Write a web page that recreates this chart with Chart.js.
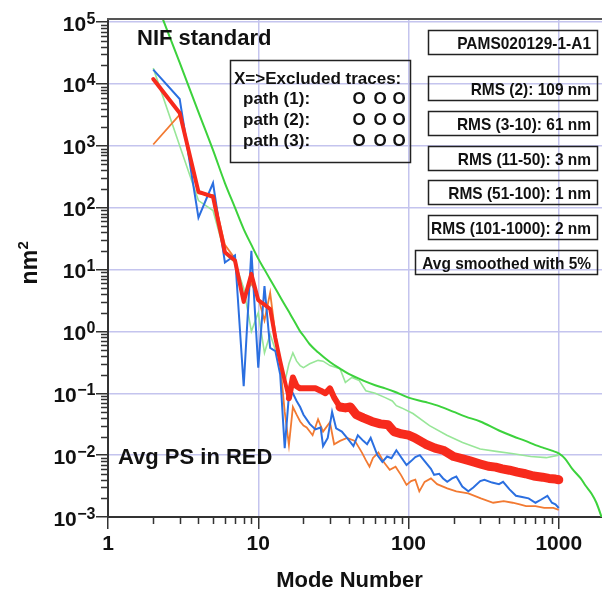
<!DOCTYPE html>
<html>
<head>
<meta charset="utf-8">
<script src="https://cdn.jsdelivr.net/npm/chart.js@4/dist/chart.umd.min.js"></script>
<style>
html,body{margin:0;padding:0;background:#fff;overflow:hidden;}
#wrap{width:610px;height:592px;}
</style>
</head>
<body>
<div id="wrap"><canvas id="c" width="610" height="592"></canvas></div>
<script>
// ---------- DATA ----------
const xTickValues = [1, 10, 100, 1000];
const xTickLabels = ['1', '10', '100', '1000'];
const yTickExponents = [-3, -2, -1, 0, 1, 2, 3, 4, 5];

const redModes = [2,3,4,5,6,7,8,9,10,11,12,13,14,15,16,17,18,19,20,22,24,26,28,30,32,35,38,41,45,50,57,65,73,80,90,100,110,130,150,170,200,230,260,300,340,380,420,470,530,600,680,780,860,950,1000];
const redValues = [1.2e4,3400,180,150,19,14,3.0,8.5,3.2,2.7,2.3,0.78,0.33,0.16,0.083,0.18,0.13,0.12,0.12,0.12,0.12,0.11,0.10,0.12,0.085,0.060,0.058,0.060,0.045,0.040,0.035,0.032,0.031,0.024,0.022,0.021,0.019,0.015,0.013,0.012,0.0095,0.0087,0.0080,0.0072,0.0066,0.0064,0.0060,0.0057,0.0053,0.0050,0.0046,0.0044,0.0042,0.0041,0.0040];

const blueModes = [2,3,4,5,6,7,8,9,10,11,12,13,14,15,16,17,18,19,20,22,24,26,27,29,31,33,36,39,43,46,50,53,56,62,67,72,77,83,90,97,104,111,119,128,141,148,160,170,181,195,208,228,250,270,300,320,360,400,426,470,519,570,630,700,760,840,900,950,1000];
const blueValues = [1.7e4,5700,69,250,13,17,0.13,20,0.26,5.4,0.54,0.48,0.2,0.013,0.093,0.10,0.075,0.06,0.045,0.032,0.026,0.028,0.014,0.019,0.05,0.027,0.024,0.019,0.014,0.021,0.017,0.015,0.019,0.010,0.0078,0.0095,0.0089,0.012,0.009,0.0069,0.0080,0.0093,0.010,0.0080,0.0060,0.0048,0.0050,0.0042,0.0037,0.0042,0.0045,0.0031,0.0026,0.0030,0.0038,0.0040,0.0036,0.0034,0.0037,0.0028,0.0022,0.0021,0.0020,0.0017,0.0019,0.0022,0.0017,0.0016,0.0014];

const orangeModes = [2,3,4,5,6,7,8,9,10,11,12,13,14,15,16,17,18,19,20,21,23,25,27,30,32,35,39,44,49,52,55,58,63,69,75,82,89,97,104,111,118,128,141,155,181,208,250,303,366,430,493,550,606,700,800,920,1000];
const orangeValues = [1050,3200,170,160,25,15,3.5,6,3.5,1.5,4.2,0.9,0.3,0.05,0.0145,0.06,0.045,0.035,0.03,0.028,0.021,0.038,0.024,0.034,0.015,0.017,0.019,0.017,0.011,0.0083,0.0065,0.009,0.011,0.0075,0.0058,0.0065,0.0048,0.0033,0.0038,0.0040,0.0026,0.0037,0.0042,0.0034,0.0029,0.0026,0.0024,0.0020,0.0017,0.0018,0.0017,0.0016,0.0015,0.0015,0.0014,0.0014,0.0013];

const lightGreenModes = [2,3,4,5,6,7,8,9,10,11,12,13,14,15,16,17,18,19,20,22,25,27,30,35,38,42,47,52,60,70,78,83,90,107,138,180,229,300,383,500,650,826,1000];
const lightGreenValues = [1.8e4,1000,130,90,18,13,5,1.0,2.0,0.45,0.9,0.5,0.35,0.15,0.30,0.45,0.33,0.28,0.26,0.30,0.34,0.33,0.28,0.25,0.15,0.18,0.16,0.11,0.10,0.085,0.075,0.063,0.058,0.047,0.030,0.021,0.016,0.0126,0.0115,0.0105,0.0095,0.0091,0.0100];

const standardModes = [2,3,4,5,6,7,8,9,10,11,12,13,14,15,16,17,18,19,20,22,25,30,35,40,50,60,70,80,100,130,160,200,240,300,400,500,600,700,800,900,1000,1100,1230,1400,1510,1650,1780,1900,1950];
const standardValues = [2.8e5,2.2e4,3500,850,250,100,45,25,15,10,6.9,4.95,3.6,2.7,2.07,1.6,1.26,1.0,0.85,0.62,0.46,0.32,0.25,0.205,0.16,0.135,0.12,0.107,0.085,0.072,0.062,0.050,0.042,0.035,0.025,0.020,0.017,0.0145,0.013,0.0118,0.0107,0.0088,0.0060,0.0042,0.0032,0.0024,0.0017,0.0011,0.0009];

const statLines = ['PAMS020129-1-A1', 'RMS (2): 109 nm', 'RMS (3-10): 61 nm', 'RMS (11-50): 3 nm', 'RMS (51-100): 1 nm', 'RMS (101-1000): 2 nm', 'Avg smoothed with 5%'];
const legendTitle = 'X=>Excluded traces:';
const legendRows = ['path (1):', 'path (2):', 'path (3):'];
const legendMarks = [['O','O','O'], ['O','O','O'], ['O','O','O']];
const topLabel = 'NIF standard';
const bottomLabel = 'Avg PS in RED';
const xTitle = 'Mode Number';

// ---------- DRAW ----------
const FF = '"Liberation Sans", Arial, Helvetica, sans-serif';
const toPts = (m, v) => m.map((x, i) => ({x: x, y: v[i]}));

const overlay = {
  id: 'overlay',
  afterDraw(chart) {
    const ctx = chart.ctx, ca = chart.chartArea;
    const xs = chart.scales.x, ys = chart.scales.y;
    ctx.save();
    // top frame line
    ctx.strokeStyle = '#555'; ctx.lineWidth = 2;
    ctx.beginPath(); ctx.moveTo(ca.left - 1, ca.top); ctx.lineTo(ca.right, ca.top); ctx.stroke();
    // minor ticks
    ctx.strokeStyle = '#333'; ctx.lineWidth = 1.5;
    ctx.beginPath();
    for (let e = -3; e < 5; e++) {
      for (let k = 2; k <= 9; k++) {
        const y = Math.round(ys.getPixelForValue(k * Math.pow(10, e))) + 0.5;
        ctx.moveTo(ca.left - 7, y); ctx.lineTo(ca.left, y);
      }
    }
    for (let e = 0; e < 4; e++) {
      for (let k = 2; k <= 9; k++) {
        const v = k * Math.pow(10, e);
        if (v > xs.max) continue;
        const x = Math.round(xs.getPixelForValue(v)) + 0.5;
        ctx.moveTo(x, ca.bottom); ctx.lineTo(x, ca.bottom + 7);
      }
    }
    ctx.stroke();

    ctx.fillStyle = '#111';
    ctx.textBaseline = 'alphabetic';
    // y tick labels (10 with superscript exponent)
    for (const e of yTickExponents) {
      const y = ys.getPixelForValue(Math.pow(10, e));
      const sup = e < 0 ? '\u2212' + (-e) : String(e);
      ctx.font = 'bold 16px ' + FF;
      const sw = ctx.measureText(sup).width;
      ctx.font = 'bold 21px ' + FF;
      const tw = ctx.measureText('10').width;
      const right = 95.5;
      ctx.textAlign = 'left';
      ctx.fillText('10', right - sw - tw - 0.5, y + 8.5);
      ctx.font = 'bold 16px ' + FF;
      ctx.fillText(sup, right - sw, y + 1.5);
    }
    // y title nm^2
    ctx.save();
    ctx.translate(37, 263); ctx.rotate(-Math.PI / 2);
    ctx.font = 'bold 23px ' + FF; const w1 = ctx.measureText('nm').width;
    ctx.font = 'bold 15px ' + FF; const w2 = ctx.measureText('2').width;
    const st = -(w1 + w2) / 2;
    ctx.font = 'bold 23px ' + FF; ctx.textAlign = 'left';
    ctx.fillText('nm', st, 0);
    ctx.font = 'bold 15px ' + FF;
    ctx.fillText('2', st + w1 + 0.5, -9);
    ctx.restore();
    // x title
    ctx.font = 'bold 22px ' + FF; ctx.textAlign = 'center';
    ctx.fillText(xTitle, 349.5, 587);
    // inner labels
    ctx.textAlign = 'left';
    ctx.fillText(topLabel, 137, 45);
    ctx.fillText(bottomLabel, 118, 464);

    // legend box
    ctx.strokeStyle = '#222'; ctx.lineWidth = 1.5;
    ctx.strokeRect(230.5, 60.5, 180, 102);
    ctx.font = 'bold 17px ' + FF; ctx.textAlign = 'left';
    ctx.fillText(legendTitle, 234, 84);
    const rowBase = [104, 125, 146];
    const markX = [359, 380, 399];
    legendRows.forEach((r, i) => {
      ctx.textAlign = 'left';
      ctx.fillText(r, 243, rowBase[i]);
      ctx.textAlign = 'center';
      legendMarks[i].forEach((m, j) => ctx.fillText(m, markX[j], rowBase[i]));
    });

    // stat boxes
    const boxTops = [30, 76, 111, 146, 180, 215, 250];
    const boxLefts = [428, 428, 428, 428, 428, 428, 415];
    statLines.forEach((t, i) => {
      const L = boxLefts[i], T = boxTops[i], R = 597, H = 24;
      ctx.strokeRect(L + 0.5, T + 0.5, R - L, H);
      ctx.save();
      ctx.font = 'bold 17px ' + FF;
      ctx.translate(R - 6, T + 19);
      ctx.scale(0.91, 1);
      ctx.textAlign = 'right';
      ctx.fillText(t, 0, 0);
      ctx.restore();
    });
    ctx.restore();
  }
};

new Chart(document.getElementById('c'), {
  type: 'scatter',
  data: {
    datasets: [
      { label: 'Avg', data: toPts(redModes, redValues), showLine: true, pointRadius: 0,
        borderColor: '#f72a1c', borderWidth: 4, borderJoinStyle: 'round', borderCapStyle: 'round', tension: 0, clip: 0,
        segment: { borderWidth: c => (c.p0.parsed.x >= 35 ? 9 : (c.p0.parsed.x >= 16 ? 6 : 4)) } },
      { label: 'path 1', data: toPts(blueModes, blueValues), showLine: true, pointRadius: 0,
        borderColor: '#2b6fe0', borderWidth: 2, tension: 0, clip: 0 },
      { label: 'path 2', data: toPts(orangeModes, orangeValues), showLine: true, pointRadius: 0,
        borderColor: '#f27a32', borderWidth: 1.8, tension: 0, clip: 0 },
      { label: 'NIF standard', data: toPts(standardModes, standardValues), showLine: true, pointRadius: 0,
        borderColor: '#3cd23c', borderWidth: 2, cubicInterpolationMode: 'monotone', clip: 0 },
      { label: 'path 3', data: toPts(lightGreenModes, lightGreenValues), showLine: true, pointRadius: 0,
        borderColor: '#98e698', borderWidth: 1.6, tension: 0, clip: 0 }
    ]
  },
  options: {
    responsive: false,
    animation: false,
    devicePixelRatio: 1,
    layout: { padding: { top: 19, right: 6, left: 0, bottom: 0 } },
    plugins: { legend: { display: false }, tooltip: { enabled: false } },
    scales: {
      x: {
        type: 'logarithmic', min: 1, max: 2000,
        afterBuildTicks: s => { s.ticks = xTickValues.map(v => ({ value: v, major: true })); },
        afterFit: s => { s.height = 75; },
        ticks: { callback: (v, i) => xTickLabels[i], autoSkip: false, maxRotation: 0, minRotation: 0,
          font: { family: FF, size: 21, weight: 'bold', lineHeight: 1 }, color: '#111', padding: 5 },
        grid: { color: '#c4c4ee', lineWidth: 1.5, tickColor: '#333', tickLength: 12, tickWidth: 1.5 },
        border: { color: '#333', width: 2 }
      },
      y: {
        type: 'logarithmic', min: 1e-3, max: 1.12e5,
        afterBuildTicks: s => { s.ticks = yTickExponents.map(e => ({ value: Math.pow(10, e), major: true })); },
        afterFit: s => { s.width = 108; },
        ticks: { display: false },
        grid: { color: '#c4c4ee', lineWidth: 1.5, tickColor: '#333', tickLength: 12, tickWidth: 1.5 },
        border: { color: '#333', width: 2 }
      }
    }
  },
  plugins: [overlay]
});
</script>
</body>
</html>
